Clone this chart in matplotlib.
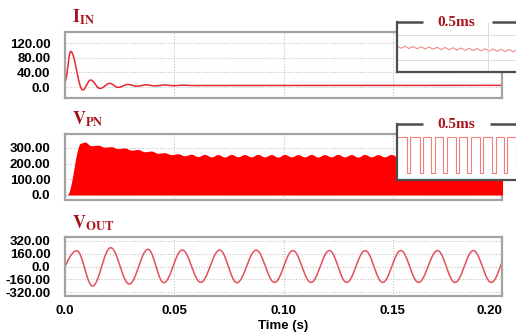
import numpy as np
import matplotlib
matplotlib.use('Agg')
import matplotlib.pyplot as plt

# ---- data ----
# input current I_IN: extrema (s, A)
iin_t = [0, 0.0026, 0.0081, 0.0117, 0.0160, 0.0205, 0.0242, 0.0288, 0.0330,
         0.0370, 0.0410, 0.0455, 0.0500, 0.0540, 0.0580, 0.2]
iin_v = [15, 97, -8, 19, -4, 10, -1, 7, 2, 6, 3, 5.5, 3.5, 5, 4, 4.5]

# DC link V_PN: start-up then upper envelope ripple (half period steps)
vpn_rise_t = [0, 0.0009, 0.0072]
vpn_rise_v = [0, 0, 331]
vpn_first_peak = 0.0090
vpn_half_period = 0.00305
vpn_env = [338, 314, 318, 305, 308, 296, 300, 286, 290, 276, 280, 266, 270, 257,
           263, 250, 260, 245,
           259, 243, 258, 242, 259, 244, 258, 243, 259, 243, 258, 242,
           259, 243, 258, 243, 259, 242, 258, 243, 259, 243, 258, 242,
           259, 243, 258, 243, 259, 242, 258, 243, 259, 243, 258, 242,
           259, 243, 258, 243, 259, 242, 258, 243, 259, 243]

# output voltage V_OUT: zero start then extrema (s, V)
vout_t = [0, 0.0054, 0.0126, 0.0209, 0.0294, 0.0380, 0.0452, 0.0537, 0.0621,
          0.0708, 0.0787, 0.0875, 0.0959, 0.1043, 0.1126, 0.1210, 0.1289,
          0.1374, 0.1454, 0.1537, 0.1618, 0.1705, 0.1785, 0.1869, 0.1951, 0.2034]
vout_v = [0, 198, -245, 236, -220, 216, -203, 207, -199, 207, -203, 205, -200,
          200, -200, 200, -200, 200, -200, 200, -200, 200, -200, 200, -200, 200]

# zoom window 1: input current ripple (ms, A), alternating peak/trough
zoom_i_v = [5.6, 4.7, 5.5, 4.6, 5.4, 4.5, 5.3, 4.4, 5.2, 4.3, 5.1, 4.2, 5.0, 4.1,
            4.9, 4.0, 4.8, 3.9, 4.7, 3.8, 4.6, 3.7, 4.5, 3.6, 4.4, 3.5, 4.3,
            3.4, 4.2, 3.3, 4.1]
zoom_i_step = 0.022

# zoom window 2: PWM notches of V_PN (ms)
notch_start = [0.055, 0.125, 0.189, 0.253, 0.323, 0.387, 0.454, 0.519, 0.588, 0.654]
notch_end = [0.074, 0.143, 0.207, 0.275, 0.341, 0.409, 0.472, 0.542, 0.606, 0.672]
vdc_level = 250

xticks = [0.0, 0.05, 0.10, 0.15, 0.20]
xtick_labels = ['0.0', '0.05', '0.10', '0.15', '0.20']


def smooth(tk, vk, n=30, sine_start=False):
    # join extrema with half cosine arcs
    ts, vs = [], []
    for i in range(len(tk) - 1):
        s = np.linspace(0, 1, n, endpoint=False)
        ts.append(tk[i] + s * (tk[i + 1] - tk[i]))
        if i == 0 and sine_start:
            vs.append(vk[i] + (vk[i + 1] - vk[i]) * np.sin(np.pi / 2 * s))
        else:
            vs.append(vk[i] + (vk[i + 1] - vk[i]) * (1 - np.cos(np.pi * s)) / 2)
    ts.append([tk[-1]])
    vs.append([vk[-1]])
    return np.concatenate(ts), np.concatenate(vs)


W, H = 516, 334
fig = plt.figure(figsize=(W / 100, H / 100), dpi=100)
plt.rcParams['mathtext.fontset'] = 'stix'

frame_c = '#a3a3a3'
grid_c = '#c4c4c4'
title_c = '#a8141c'
tick_font = dict(family='Liberation Sans', weight='bold', size=9.5)


def px_axes(left, top, right, bottom):
    return fig.add_axes([left / W, 1 - bottom / H, (right - left) / W, (bottom - top) / H])


def style_main(ax, ylim, yticks, ylabels, show_x=False):
    ax.set_xlim(0, 0.2)
    ax.set_ylim(*ylim)
    ax.set_yticks(yticks)
    ax.set_yticklabels(ylabels, fontdict=tick_font)
    ax.set_xticks(xticks[1:-1] if not show_x else xticks)
    if show_x:
        ax.set_xticklabels(xtick_labels, fontdict=tick_font)
        ax.get_xticklabels()[-1].set_horizontalalignment('right')
    else:
        ax.set_xticklabels([])
    ax.tick_params(length=0, pad=10.5, axis='y')
    ax.tick_params(length=0, pad=6.5, axis='x')
    for s in ax.spines.values():
        s.set_color(frame_c)
        s.set_linewidth(1.6)
    ax.grid(True, linestyle=(0, (1, 1.5)), color=grid_c, linewidth=0.8)
    ax.set_axisbelow(True)


# panel 1: I_IN
ax1 = px_axes(65, 32, 502, 98)
t, v = smooth(iin_t, iin_v)
ax1.plot(t, v, color='#e8282e', lw=1.1)
style_main(ax1, (-30, 150), [0, 40, 80, 120], ['0.0', '40.00', '80.00', '120.00'])
ax1.set_xticks([0.05, 0.10, 0.15])

# panel 2: V_PN
ax2 = px_axes(65, 134, 502, 200)
env_t = list(vpn_rise_t) + list(vpn_first_peak + vpn_half_period * np.arange(len(vpn_env)))
env_v = list(vpn_rise_v) + vpn_env
t, v = smooth(env_t, env_v, n=12)
ax2.fill_between(t, 0, v, color='#ff0000', lw=0, zorder=3)
style_main(ax2, (-32, 389), [0, 100, 200, 300], ['0.0', '100.00', '200.00', '300.00'])

# panel 3: V_OUT
ax3 = px_axes(65, 237, 502, 296)
t, v = smooth(vout_t, vout_v, n=40, sine_start=True)
ax3.plot(t, v, color='#e2505c', lw=1.1)
style_main(ax3, (-370, 370), [-320, -160, 0, 160, 320],
           ['-320.00', '-160.00', '0.0', '160.00', '320.00'], show_x=True)

fig.text(283.5 / W, 1 - 326 / H, 'Time (s)', ha='center', va='center',
         family='Liberation Sans', weight='bold', size=9.5)

# panel titles
for y, txt in [(23, r'$\mathbf{I}_{\mathbf{IN}}$'), (125, r'$\mathbf{V}_{\mathbf{PN}}$'),
               (229, r'$\mathbf{V}_{\mathbf{OUT}}$')]:
    fig.text(72 / W, 1 - y / H, txt, color=title_c, size=13, va='baseline', ha='left')


# zoom windows
def zoom_box(top, bottom, gap):
    ax = px_axes(397, top, 519, bottom)
    ax.set_facecolor('white')
    ax.set_zorder(10)
    ax.set_xlim(0, 0.67)
    ax.set_xticks([])
    ax.set_yticks([])
    for k in ['left', 'bottom', 'right']:
        ax.spines[k].set_color('#4d4d4d')
        ax.spines[k].set_linewidth(1.6)
    ax.spines['top'].set_visible(False)
    for a, b in [(0, gap[0]), (gap[1], 1)]:
        ax.plot([a, b], [1, 1], transform=ax.transAxes, color='#4d4d4d', lw=1.8,
                clip_on=False, solid_capstyle='butt')
    ax.text(0.489, 0.99, '0.5ms', transform=ax.transAxes, ha='center', va='center',
            family='Liberation Serif', weight='bold', size=11, color=title_c)
    return ax


axz1 = zoom_box(22, 72, (0.21, 0.78))
zt = zoom_i_step * np.arange(len(zoom_i_v))
axz1.plot(zt, zoom_i_v, color='#f08a8a', lw=0.8)
axz1.set_ylim(-4.8, 15.2)
for yy in [0, 10]:
    axz1.axhline(yy, color='#dcdcdc', lw=0.7)
axz1.axvline(0.5, color='#dcdcdc', lw=0.7)

axz2 = zoom_box(124, 180, (0.21, 0.76))
pt, pv = [0], [vdc_level]
for a, b in zip(notch_start, notch_end):
    pt += [a, a, b, b]
    pv += [vdc_level, 0, 0, vdc_level]
pt.append(0.67)
pv.append(vdc_level)
axz2.plot(pt, pv, color='#f08080', lw=0.8)
axz2.set_ylim(-45, 340)

fig.savefig('out.png', dpi=100)
